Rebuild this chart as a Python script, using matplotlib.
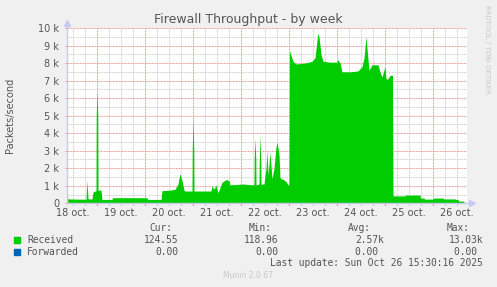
import matplotlib
matplotlib.use("Agg")
import matplotlib.pyplot as plt
import matplotlib.transforms as mtransforms
from matplotlib.patches import Rectangle
import numpy as np

plt.rcParams["lines.scale_dashes"] = False

# hours since 18 oct 00:00 and packets/second (Received)
hours = [9.0, 9.5, 18.5, 19.0, 19.5, 21.5, 22.0, 23.5, 23.6, 24.0, 24.4, 24.5,
         26.0, 26.5,
         31.5, 31.75, 49.0, 49.25, 56.0, 56.5, 60.5, 63.0, 64.5, 65.5, 66.5,
         67.5, 68.0, 71.5, 71.6, 72.0, 72.4, 72.5, 81.0, 81.5, 82.5, 83.5,
         84.5, 85.5, 86.5, 88.5, 90.0, 90.5, 97.0, 102.5, 102.6, 103.0, 103.4,
         103.5, 105.0, 105.1, 105.5, 105.9, 106.0, 107.5, 108.0, 108.5, 109.0,
         109.5, 110.5, 111.5, 112.5, 113.5,
         114.0, 115.0, 115.5, 118.0, 119.0, 120.0, 120.25, 122.0, 123.5, 128.0,
         131.5, 133.0, 134.0, 134.5, 135.0, 136.0, 137.0, 140.5, 144.0, 144.5,
         145.5, 146.5, 150.5, 154.5, 156.5, 157.5, 158.5, 159.5, 160.0, 161.0,
         161.5, 164.5, 165.5, 166.5, 168.0, 168.5, 169.5, 170.5, 171.75, 172.0,
         178.0, 178.25, 185.5, 185.75, 187.5, 187.75, 192.0, 192.25, 197.0,
         197.25, 203.0, 203.25, 204.5, 204.75, 207.5]
received = [450, 250, 230, 1300, 250, 250, 650, 720, 5000, 6400, 5000, 750,
            750, 220,
            220, 320, 320, 220, 220, 720, 750, 800, 1100, 1700, 1300,
            750, 700, 700, 3000, 4900, 3000, 700, 700, 1000, 800, 1050,
            600, 900, 1200, 1350, 1300, 1050, 1100, 1050, 2500, 3700, 2500,
            1050, 1100, 2200, 3900, 2200, 1100, 1100, 1600, 2000, 3000,
            1600, 2900, 1400, 2000, 3200,
            3500, 2800, 1450, 1300, 1150, 1000, 8700, 8100, 7950, 8000,
            8100, 8300, 9300, 9700, 9500, 8500, 8100, 8050, 8050, 8200,
            8000, 7500, 7500, 7550, 7800, 8300, 9500, 8200, 7600, 7800,
            7900, 7900, 7500, 7200, 7800, 7100, 7100, 7300, 7300, 420,
            420, 470, 470, 300, 300, 240, 240, 300, 300,
            250, 250, 220, 220, 130, 125]
forwarded = [0.0] * len(hours)

day_labels = ["18 oct.", "19 oct.", "20 oct.", "21 oct.", "22 oct.",
              "23 oct.", "24 oct.", "25 oct.", "26 oct."]
y_ticks = [0, 1000, 2000, 3000, 4000, 5000, 6000, 7000, 8000, 9000, 10000]
y_labels = ["0", "1 k", "2 k", "3 k", "4 k", "5 k", "6 k", "7 k", "8 k", "9 k", "10 k"]

series = ["Received", "Forwarded"]
colors = ["#00cc00", "#0066b3"]
cur = ["124.55", "0.00"]
vmin = ["118.96", "0.00"]
avg = ["2.57k", "0.00 "]
vmax = ["13.03k", "0.00 "]

W, H = 497, 287
fig = plt.figure(figsize=(W / 100, H / 100), dpi=100, facecolor="#f0f0f0")
ax = fig.add_axes([67 / W, (H - 203.3) / H, 400 / W, 175.3 / H])
ax.set_facecolor("white")
ax.set_xlim(9.0, 209.0)
ax.set_ylim(0, 10000)
for s in ax.spines.values():
    s.set_visible(False)


def fx(x):
    return x / W


def fy(y):
    return 1 - y / H


txt = "#555555"
dots = (0, (1.44, 0.72))

# grid
for h in np.arange(12, 209, 6):
    if h % 24:
        ax.axvline(h, color="#d4d4d4", lw=0.72, ls=dots, zorder=1)
for v in np.arange(500, 10000, 1000):
    ax.axhline(v, color="#d4d4d4", lw=0.72, ls=dots, zorder=1)
for h in np.arange(24, 209, 24):
    ax.axvline(h, color="#eea0a0", lw=0.72, ls=dots, zorder=1)
for v in y_ticks[1:]:
    ax.axhline(v, color="#eea0a0", lw=0.72, ls=dots, zorder=1)

ax.fill_between(hours, 0, received, color=colors[0], lw=0, zorder=2)
ax.fill_between(hours, received, np.array(received) + np.array(forwarded),
                color=colors[1], lw=0, zorder=2)

# axes with arrows
ax.plot([0, 1.012], [0, 0], transform=ax.transAxes, color="#c8c8f0", lw=1,
        clip_on=False, zorder=3)
ax.plot([0, 0], [0, 1.025], transform=ax.transAxes, color="#c8c8f0", lw=1,
        clip_on=False, zorder=3)
ax.plot([1.012], [0], marker=">", ms=4, color="#c8c8f0", transform=ax.transAxes,
        clip_on=False, zorder=3)
ax.plot([0], [1.03], marker="^", ms=4, color="#c8c8f0", transform=ax.transAxes,
        clip_on=False, zorder=3)

# ticks
ax.set_yticks(y_ticks)
ax.set_yticklabels(y_labels)
ax.tick_params(axis="y", length=1.5, width=0.7, color="#e89090", pad=4,
               labelsize=7, labelcolor=txt)
ax.set_xticks([])
bt = mtransforms.blended_transform_factory(ax.transData, ax.transAxes)
for h in np.arange(12, 209, 6):
    c = "#e89090" if h % 24 == 0 else "#c8c8c8"
    ax.plot([h, h], [0, -0.012], transform=bt, color=c, lw=0.8, clip_on=False)
lt = mtransforms.blended_transform_factory(ax.transData, fig.transFigure)
for i, lab in enumerate(day_labels):
    ax.text(12 + 24 * i, fy(213), lab, transform=lt, ha="center", va="center",
            fontsize=7, color=txt)

fig.text(0.5, fy(20), "Firewall Throughput - by week", ha="center", va="center",
         fontsize=9, color=txt)
fig.text(fx(10), fy(115.5), "Packets/second", rotation=90, ha="center",
         va="center", fontsize=7, color=txt)
fig.text(fx(487), fy(5), "RRDTOOL / TOBI OETIKER", rotation=270, ha="center",
         va="top", fontsize=5, color="#c8c8c8")

# legend
mono = dict(family="DejaVu Sans Mono", fontsize=6.9, color=txt, va="center")
for lab, xr in zip(["Cur:", "Min:", "Avg:", "Max:"], [172, 272, 371, 470]):
    fig.text(fx(xr), fy(228), lab, ha="right", **mono)
for i in range(len(series)):
    y = 240 + 12 * i
    fig.patches.append(Rectangle((fx(14), fy(y + 3)), 6 / W, 6 / H,
                                 transform=fig.transFigure, color=colors[i]))
    fig.text(fx(27), fy(y), series[i], ha="left", **mono)
    fig.text(fx(178), fy(y), cur[i], ha="right", **mono)
    fig.text(fx(278), fy(y), vmin[i], ha="right", **mono)
    fig.text(fx(384), fy(y), avg[i], ha="right", **mono)
    fig.text(fx(483), fy(y), vmax[i], ha="right", **mono)
fig.text(fx(483), fy(263), "Last update: Sun Oct 26 15:30:16 2025", ha="right",
         **mono)
fig.text(fx(248), fy(276), "Munin 2.0.67", ha="center", va="center",
         fontsize=5.5, color="#c8c8c8")

fig.savefig("out.png", dpi=100, facecolor=fig.get_facecolor())
